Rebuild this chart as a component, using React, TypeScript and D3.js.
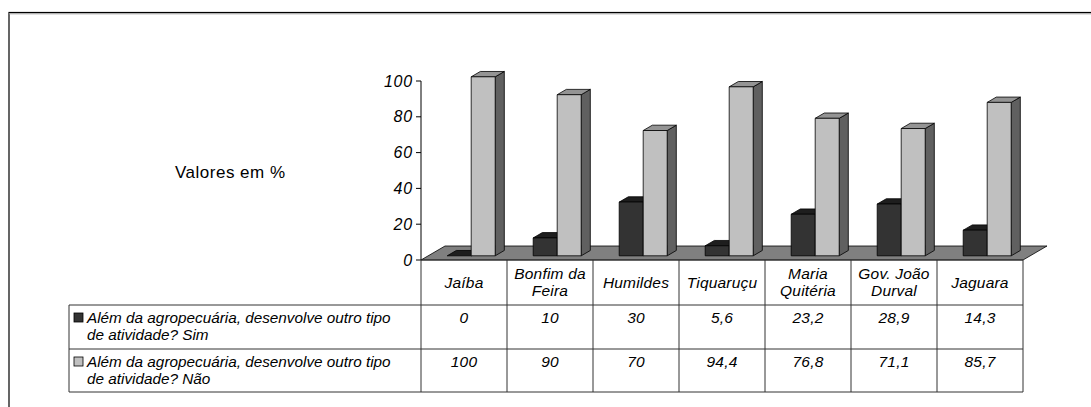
import React from "react";
import * as d3 from "d3";

// Municipalities along the horizontal axis
const categories = [
  "Jaíba",
  "Bonfim da Feira",
  "Humildes",
  "Tiquaruçu",
  "Maria Quitéria",
  "Gov. João Durval",
  "Jaguara",
];
// Header labels split across two lines where the cell wraps
const categoryLines = [
  ["Jaíba"],
  ["Bonfim da", "Feira"],
  ["Humildes"],
  ["Tiquaruçu"],
  ["Maria", "Quitéria"],
  ["Gov. João", "Durval"],
  ["Jaguara"],
];

const seriesNames = [
  "Além da agropecuária, desenvolve outro tipo de atividade? Sim",
  "Além da agropecuária, desenvolve outro tipo de atividade? Não",
];
const seriesLines = [
  ["Além da agropecuária, desenvolve outro tipo", "de atividade? Sim"],
  ["Além da agropecuária, desenvolve outro tipo", "de atividade? Não"],
];
const simValues = [0, 10, 30, 5.6, 23.2, 28.9, 14.3];
const naoValues = [100, 90, 70, 94.4, 76.8, 71.1, 85.7];
const valueLabels = [
  ["0", "10", "30", "5,6", "23,2", "28,9", "14,3"],
  ["100", "90", "70", "94,4", "76,8", "71,1", "85,7"],
];
const yTicks = [0, 20, 40, 60, 80, 100];

const W = 1091;
const H = 407;
const FONT = "'Liberation Sans', Arial, Helvetica, sans-serif";

// Face colours for each series: front, top, side
const palette = [
  { front: "#333333", top: "#1e1e1e", side: "#262626" },
  { front: "#c0c0c0", top: "#949494", side: "#606060" },
];

export default function App() {
  const plotLeft = 421;
  const plotRight = 1023;
  const floorY = 260;
  const depth = { dx: 24, dy: -14 };
  const t0 = 0.3;
  const t1 = 0.68;

  const x = d3.scaleBand<string>().domain(categories).range([plotLeft, plotRight]);
  const y = d3.scaleLinear().domain([0, 100]).range([floorY, 81]);
  const inner = d3
    .scaleBand<number>()
    .domain([0, 1])
    .range([0, 48]);

  const series = [simValues, naoValues];

  const pts = (arr: [number, number][]) => arr.map((p) => p.join(",")).join(" ");

  const bars: React.ReactNode[] = [];
  categories.forEach((c, ci) => {
    const cx = (x(c) as number) + x.bandwidth() / 2;
    series.forEach((vals, si) => {
      const v = vals[ci];
      const x0 = cx - 24 + (inner(si) as number) + depth.dx * t0;
      const x1 = x0 + inner.bandwidth();
      const yb = floorY + depth.dy * t0;
      const yt = y(v) + depth.dy * t0;
      const ddx = depth.dx * (t1 - t0);
      const ddy = depth.dy * (t1 - t0);
      const col = palette[si];
      bars.push(
        <g key={`${ci}-${si}`} stroke="#000" strokeWidth={0.8} strokeLinejoin="round">
          <polygon
            points={pts([
              [x1, yb],
              [x1 + ddx, yb + ddy],
              [x1 + ddx, yt + ddy],
              [x1, yt],
            ])}
            fill={col.side}
          />
          <polygon
            points={pts([
              [x0, yt],
              [x1, yt],
              [x1 + ddx, yt + ddy],
              [x0 + ddx, yt + ddy],
            ])}
            fill={col.top}
          />
          <rect x={x0} y={yt} width={x1 - x0} height={yb - yt} fill={col.front} />
        </g>
      );
    });
  });

  // Data table rows
  const rowY = [260, 305, 349, 392];
  const tableLeft = 69;
  const colEdges = categories.map((c) => x(c) as number).concat([plotRight]);
  const tableFont = 15.5;

  return (
    <div style={{ position: "fixed", left: 0, top: 0 }}>
      <svg width={W} height={H} style={{ display: "block", background: "#fff" }}>
        {/* outer frame */}
        <rect x={9} y={12.5} width={W + 20} height={H + 20} fill="none" stroke="#000" strokeWidth={1.2} />
        <line x1={9} y1={13.8} x2={W} y2={13.8} stroke="#9a9a9a" strokeWidth={1} />

        {/* floor */}
        <polygon
          points={pts([
            [plotLeft, floorY],
            [plotRight, floorY],
            [plotRight + depth.dx, floorY + depth.dy],
            [plotLeft + depth.dx, floorY + depth.dy],
          ])}
          fill="#808080"
          stroke="#000"
          strokeWidth={0.8}
        />

        {/* value axis */}
        <line x1={plotLeft} y1={y(100)} x2={plotLeft} y2={floorY} stroke="#000" strokeWidth={1} />
        {yTicks.map((t) => (
          <g key={t}>
            <line x1={plotLeft - 5} x2={plotLeft} y1={y(t)} y2={y(t)} stroke="#000" strokeWidth={1} />
            <text
              x={plotLeft - 8}
              y={y(t)}
              dy="0.35em"
              textAnchor="end"
              fontFamily={FONT}
              fontStyle="italic"
              fontSize={16}
              letterSpacing={0.8}
              fill="#000"
            >
              {t}
            </text>
          </g>
        ))}

        <text
          x={175}
          y={172}
          dy="0.35em"
          fontFamily={FONT}
          fontSize={17}
          letterSpacing={0.5}
          fill="#000"
        >
          Valores em %
        </text>

        {bars}

        {/* data table grid */}
        <g stroke="#333" strokeWidth={1} fill="none">
          <line x1={plotLeft} x2={plotRight} y1={rowY[0]} y2={rowY[0]} />
          {rowY.slice(1).map((ry) => (
            <line key={ry} x1={tableLeft} x2={plotRight} y1={ry} y2={ry} />
          ))}
          <line x1={tableLeft} x2={tableLeft} y1={rowY[1]} y2={rowY[3]} />
          {colEdges.map((cx, i) => (
            <line key={i} x1={cx} x2={cx} y1={rowY[0]} y2={rowY[3]} />
          ))}
        </g>

        {/* header labels */}
        {categories.map((c, ci) => {
          const cx = (x(c) as number) + x.bandwidth() / 2;
          const lines = categoryLines[ci];
          const mid = (rowY[0] + rowY[1]) / 2;
          return (
            <text
              key={c}
              textAnchor="middle"
              fontFamily={FONT}
              fontStyle="italic"
              fontSize={tableFont}
              letterSpacing={0.2}
              fill="#000"
            >
              {lines.map((l, li) => (
                <tspan key={li} x={cx} y={mid + (li - (lines.length - 1) / 2) * 17} dy="0.35em">
                  {l}
                </tspan>
              ))}
            </text>
          );
        })}

        {/* series rows */}
        {seriesNames.map((s, si) => {
          const top = rowY[si + 1];
          return (
            <g key={s}>
              <rect
                x={74}
                y={top + 8}
                width={9}
                height={9}
                fill={palette[si].front}
                stroke="#000"
                strokeWidth={0.8}
              />
              <text fontFamily={FONT} fontStyle="italic" fontSize={15.3} fill="#000">
                {seriesLines[si].map((l, li) => (
                  <tspan key={li} x={87} y={top + 13 + li * 17} dy="0.35em">
                    {l}
                  </tspan>
                ))}
              </text>
              {valueLabels[si].map((lab, ci) => {
                const cx = (x(categories[ci]) as number) + x.bandwidth() / 2;
                return (
                  <text
                    key={ci}
                    x={cx}
                    y={top + 13}
                    dy="0.35em"
                    textAnchor="middle"
                    fontFamily={FONT}
                    fontStyle="italic"
                    fontSize={tableFont}
                    letterSpacing={0.2}
                    fill="#000"
                  >
                    {lab}
                  </text>
                );
              })}
            </g>
          );
        })}
      </svg>
    </div>
  );
}
